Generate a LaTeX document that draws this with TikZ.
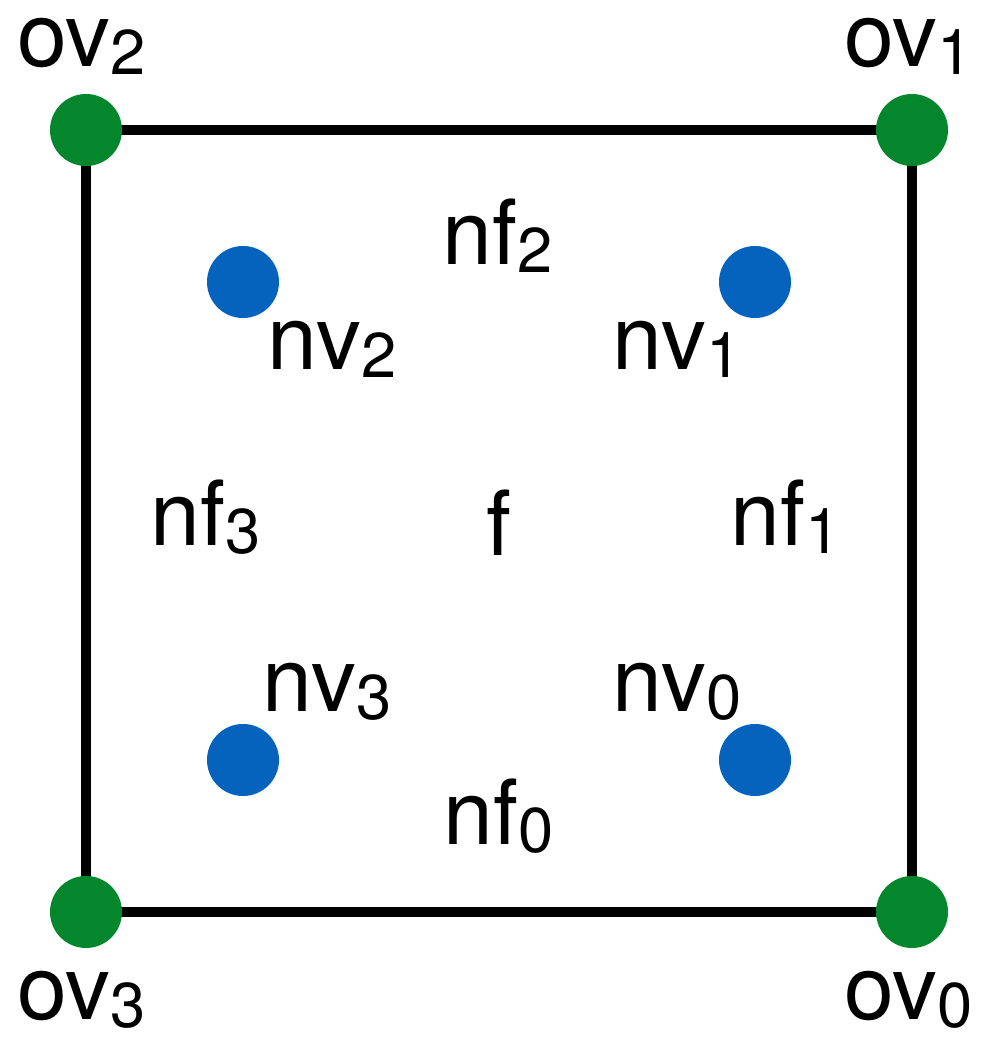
\documentclass[tikz,border=0pt]{standalone}
\usepackage{fontspec}
\setmainfont{TeX Gyre Heros}
\usepackage{tikz}
\usetikzlibrary{positioning,calc,backgrounds}
\usepackage{xcolor}
\definecolor{ovgreen}{RGB}{4,134,44}
\definecolor{nvblue}{RGB}{5,99,190}
\newcommand{\lowsub}[1]{\raisebox{-0.08cm}{\fontsize{18}{18}\selectfont #1}}

\begin{document}
\begin{tikzpicture}[
    ovdot/.style={circle, fill=ovgreen, inner sep=0pt, minimum size=0.72cm},
    nvdot/.style={circle, fill=nvblue, inner sep=0pt, minimum size=0.72cm},
    lbl/.style={anchor=base west, inner sep=0pt, font=\fontsize{25.5}{28}\selectfont}
]
    \useasboundingbox (0,0) rectangle (9.87,10.39);

    % Old vertices (corners of the face)
    \node[ovdot] (ov0) at (9.12,1.27) {};
    \node[ovdot] (ov1) at (9.12,9.09) {};
    \node[ovdot] (ov2) at (0.86,9.09) {};
    \node[ovdot] (ov3) at (0.86,1.27) {};

    % Face outline
    \begin{scope}[on background layer]
        \draw[line width=2.6pt] (ov0.center) -- (ov1.center) -- (ov2.center) -- (ov3.center) -- cycle;
    \end{scope}

    % New vertices
    \node[nvdot] (nv0) at (7.55,2.79) {};
    \node[nvdot] (nv1) at (7.55,7.57) {};
    \node[nvdot] (nv2) at (2.43,7.57) {};
    \node[nvdot] (nv3) at (2.43,2.79) {};

    % Vertex labels
    \node[lbl] (ov0lbl) at (8.44,0.19) {ov\lowsub{0}};
    \node[lbl] (ov1lbl) at (8.44,9.72) {ov\lowsub{1}};
    \node[lbl] (ov2lbl) at (0.17,9.72) {ov\lowsub{2}};
    \node[lbl] (ov3lbl) at (0.17,0.19) {ov\lowsub{3}};
    \node[lbl] (nv0lbl) at (6.12,3.27) {nv\lowsub{0}};
    \node[lbl] (nv1lbl) at (6.12,6.69) {nv\lowsub{1}};
    \node[lbl] (nv2lbl) at (2.67,6.69) {nv\lowsub{2}};
    \node[lbl] (nv3lbl) at (2.62,3.27) {nv\lowsub{3}};

    % Face labels
    \node[lbl] (flbl) at (4.86,4.83) {f};
    \node[lbl] (nf0lbl) at (4.43,1.94) {nf\lowsub{0}};
    \node[lbl] (nf1lbl) at (7.30,4.93) {nf\lowsub{1}};
    \node[lbl] (nf2lbl) at (4.42,7.74) {nf\lowsub{2}};
    \node[lbl] (nf3lbl) at (1.50,4.93) {nf\lowsub{3}};
\end{tikzpicture}
\end{document}
